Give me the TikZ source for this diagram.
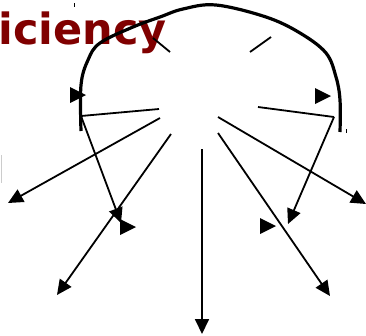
\documentclass[tikz,border=0pt]{standalone}
\usepackage{fontspec}
\usetikzlibrary{arrows.meta}
\newfontfamily\dejabold{DejaVu Sans}
\definecolor{darkred}{HTML}{800000}
\tikzset{
  conn/.style={line width=1.8pt, -{Triangle[length=15pt,width=14pt]}},
  plainline/.style={line width=1.8pt},
  bigcurve/.style={line width=3.2pt},
  tri/.style={fill=black},
}
\begin{document}
\begin{tikzpicture}[x=1pt,y=-1pt]
\useasboundingbox (0,0) rectangle (366,335);
% title fragment
\node[anchor=base west, inner sep=0pt, text=darkred, font=\dejabold\bfseries\fontsize{43}{43}\selectfont] (title) at (-1.5,44) {iciency};
% coordinates for invisible nodes
\coordinate (l1) at (81,116);
\coordinate (l2) at (159,109);
\coordinate (r1) at (258,107);
\coordinate (r2) at (334,117);
\coordinate (s1a) at (153,38);
\coordinate (s1b) at (170,52);
\coordinate (s2a) at (250,52);
\coordinate (s2b) at (271,37);
\coordinate (c1) at (160,118);
\coordinate (c2) at (171,134);
\coordinate (c3) at (202,149);
\coordinate (c4) at (218,133);
\coordinate (c5) at (218,117);
\coordinate (t1) at (8,203);
\coordinate (t2) at (57,295);
\coordinate (t3) at (202,334);
\coordinate (t4) at (330,296);
\coordinate (t5) at (366,204);
\coordinate (t6) at (121,223);
\coordinate (t7) at (288,224);
% big curve
\draw[bigcurve] plot[smooth, tension=0.6] coordinates {(81,131) (81,85) (88,60) (100,43) (133,27) (160,17) (183,9) (216,5) (266,17) (300,33) (326,53) (336,77) (340,100) (340,132)};
% plain lines
\draw[plainline] (l1) -- (l2);
\draw[plainline] (r1) -- (r2);
\draw[plainline] (s1a) -- (s1b);
\draw[plainline] (s2a) -- (s2b);
% arrows
\draw[conn] (c1) -- (t1);
\draw[conn] (c2) -- (t2);
\draw[conn] (c3) -- (t3);
\draw[conn] (c4) -- (t4);
\draw[conn] (c5) -- (t5);
\draw[conn] (l1) -- (t6);
\draw[conn] (r2) -- (t7);
% loose triangles
\fill[tri] (70,87) -- (70,103) -- (86,95) -- cycle;
\fill[tri] (315,88) -- (315,104) -- (331,96) -- cycle;
\fill[tri] (120,219) -- (120,235) -- (136,227) -- cycle;
\fill[tri] (260,218) -- (260,234) -- (276,226) -- cycle;
% small marks
\draw[line width=1pt] (74,3) -- (74,7);
\draw[line width=1pt] (346,129) -- (346,133);
\draw[line width=1pt, gray!40] (1,155) -- (1,183);
\end{tikzpicture}
\end{document}
